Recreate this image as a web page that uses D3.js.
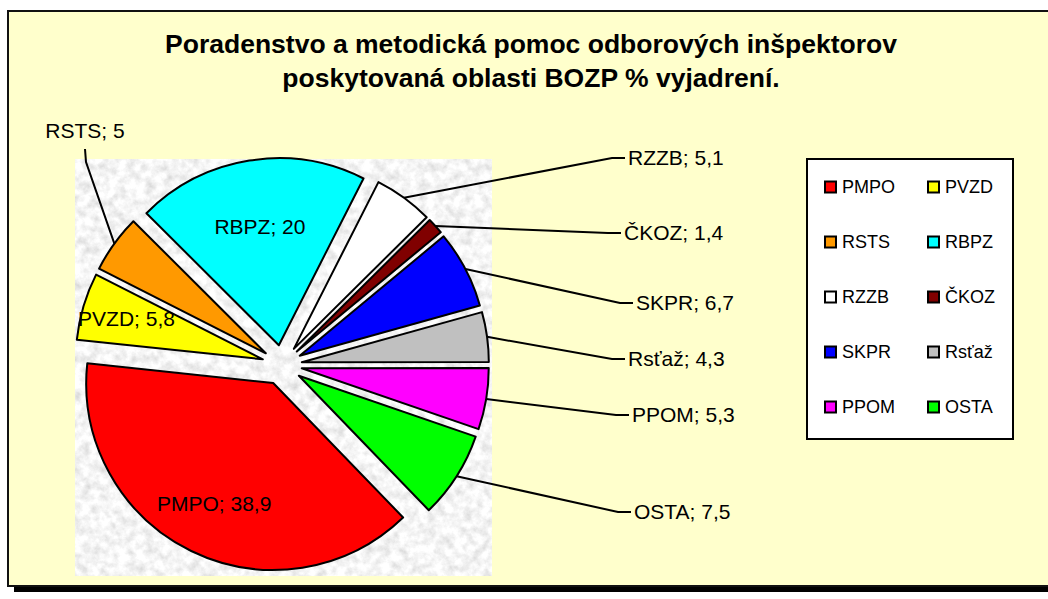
<!DOCTYPE html>
<html>
<head>
<meta charset="utf-8">
<script src="https://cdn.jsdelivr.net/npm/d3@7"></script>
<style>
  body { margin: 0; background: #fff; }
  svg { display: block; font-family: "Liberation Sans", Arial, sans-serif; }
</style>
</head>
<body>
<div id="chart"></div>
<script>
var categories = ["PMPO", "PVZD", "RSTS", "RBPZ", "RZZB", "ČKOZ", "SKPR", "Rsťaž", "PPOM", "OSTA"];
var values = [38.9, 5.8, 5, 20, 5.1, 1.4, 6.7, 4.3, 5.3, 7.5];
var colors = ["#ff0000", "#ffff00", "#ff9900", "#00ffff", "#ffffff", "#800000", "#0000ff", "#c0c0c0", "#ff00ff", "#00ff00"];
var titleLines = ["Poradenstvo a metodická pomoc odborových inšpektorov", "poskytovaná oblasti BOZP % vyjadrení."];

// labels drawn inside their slice, with the distance from the pie centre (fraction of radius)
var insideLabels = {"PMPO": 0.72, "PVZD": 0.76, "RBPZ": 0.64};

// where the outside labels sit (layout only)
var labelPos = {
  "RSTS": [85, 131],
  "RZZB": [628, 158],
  "ČKOZ": [624, 233],
  "SKPR": [636, 303],
  "Rsťaž": [628, 359],
  "PPOM": [632, 415],
  "OSTA": [634, 512]
};

var width = 1048, height = 599;
var plot = {x: 75, y: 159, size: 417};
var radius = 187, explode = 20;
var cx = 282, cy = 365;
var firstAngle = 136 * Math.PI / 180;

var data = categories.map(function(c, i) { return {name: c, value: values[i], color: colors[i]}; });
var fmt = function(v) { return String(v).replace(".", ","); };

var svg = d3.select("#chart").append("svg")
  .attr("width", width)
  .attr("height", height);

var defs = svg.append("defs");
var filter = defs.append("filter")
  .attr("id", "granite")
  .attr("filterUnits", "userSpaceOnUse")
  .attr("x", plot.x).attr("y", plot.y)
  .attr("width", plot.size).attr("height", plot.size);
filter.append("feTurbulence")
  .attr("type", "fractalNoise")
  .attr("baseFrequency", 0.11)
  .attr("numOctaves", 4)
  .attr("seed", 7);
filter.append("feColorMatrix")
  .attr("type", "matrix")
  .attr("values", "0.55 0 0 0 0.64  0.55 0 0 0 0.64  0.55 0 0 0 0.64  0 0 0 0 1");

// frame with shadow
svg.append("rect")
  .attr("x", 14).attr("y", 17)
  .attr("width", 1044).attr("height", 575)
  .attr("fill", "#000");
svg.append("rect")
  .attr("x", 8).attr("y", 11)
  .attr("width", 1044).attr("height", 575)
  .attr("fill", "#ffffcc")
  .attr("stroke", "#111")
  .attr("stroke-width", 2);

// title
svg.append("g").selectAll("text")
  .data(titleLines)
  .enter().append("text")
  .attr("x", 531)
  .attr("y", function(d, i) { return 53 + i * 34; })
  .attr("text-anchor", "middle")
  .attr("font-size", 26.5)
  .attr("font-weight", "bold")
  .text(function(d) { return d; });

// textured plot area
svg.append("rect")
  .attr("x", plot.x).attr("y", plot.y)
  .attr("width", plot.size).attr("height", plot.size)
  .attr("filter", "url(#granite)");

var pie = d3.pie()
  .sort(null)
  .value(function(d) { return d.value; })
  .startAngle(firstAngle)
  .endAngle(firstAngle + 2 * Math.PI);

var arc = d3.arc().innerRadius(0).outerRadius(radius);
var arcs = pie(data);

function mid(d) { return (d.startAngle + d.endAngle) / 2; }
function polar(a, r) { return [cx + r * Math.sin(a), cy - r * Math.cos(a)]; }

var slices = svg.append("g");
slices.selectAll("path")
  .data(arcs)
  .enter().append("path")
  .attr("d", arc)
  .attr("transform", function(d) {
    var p = polar(mid(d), explode);
    return "translate(" + p[0] + "," + p[1] + ")";
  })
  .attr("fill", function(d) { return d.data.color; })
  .attr("stroke", "#000")
  .attr("stroke-width", 2)
  .attr("stroke-linejoin", "round");

// labels inside the slices
var inside = arcs.filter(function(d) { return d.data.name in insideLabels; });
svg.append("g").selectAll("text")
  .data(inside)
  .enter().append("text")
  .each(function(d) {
    var p = polar(mid(d), explode + radius * insideLabels[d.data.name]);
    d3.select(this).attr("x", p[0]).attr("y", p[1]);
  })
  .attr("dy", "0.35em")
  .attr("text-anchor", "middle")
  .attr("font-size", 21)
  .text(function(d) { return d.data.name + "; " + fmt(d.data.value); });

// outside labels with leader lines
var outside = arcs.filter(function(d) { return !(d.data.name in insideLabels); });
var leaders = svg.append("g");
leaders.selectAll("polyline")
  .data(outside)
  .enter().append("polyline")
  .attr("fill", "none")
  .attr("stroke", "#000")
  .attr("stroke-width", 2)
  .attr("points", function(d) {
    var s = polar(mid(d), radius + explode);
    var p = labelPos[d.data.name];
    var pts;
    if (p[0] < cx) {
      pts = [s, [p[0] + 1, p[1] + 31], [p[0], p[1] + 18]];
    } else {
      pts = [s, [p[0] - 16, p[1]], [p[0] - 3, p[1]]];
    }
    return pts.map(function(q) { return q.join(","); }).join(" ");
  });

leaders.selectAll("text")
  .data(outside)
  .enter().append("text")
  .attr("x", function(d) { return labelPos[d.data.name][0]; })
  .attr("y", function(d) { return labelPos[d.data.name][1]; })
  .attr("dy", "0.35em")
  .attr("text-anchor", function(d) { return labelPos[d.data.name][0] < cx ? "middle" : "start"; })
  .attr("font-size", 21)
  .text(function(d) { return d.data.name + "; " + fmt(d.data.value); });

// legend
var legend = svg.append("g");
legend.append("rect")
  .attr("x", 807).attr("y", 159)
  .attr("width", 206).attr("height", 280)
  .attr("fill", "#fff")
  .attr("stroke", "#000")
  .attr("stroke-width", 2);

var rowY = d3.scalePoint().domain(d3.range(5)).range([187, 407]);
var colX = d3.scalePoint().domain([0, 1]).range([825, 928]);

var item = legend.selectAll("g.item")
  .data(data)
  .enter().append("g")
  .attr("class", "item")
  .attr("transform", function(d, i) {
    return "translate(" + colX(i % 2) + "," + rowY(Math.floor(i / 2)) + ")";
  });
item.append("rect")
  .attr("x", 0).attr("y", -5.5)
  .attr("width", 11).attr("height", 11)
  .attr("fill", function(d) { return d.color; })
  .attr("stroke", "#000")
  .attr("stroke-width", 2);
item.append("text")
  .attr("x", 17)
  .attr("dy", "0.35em")
  .attr("font-size", 18)
  .text(function(d) { return d.name; });
</script>
</body>
</html>
